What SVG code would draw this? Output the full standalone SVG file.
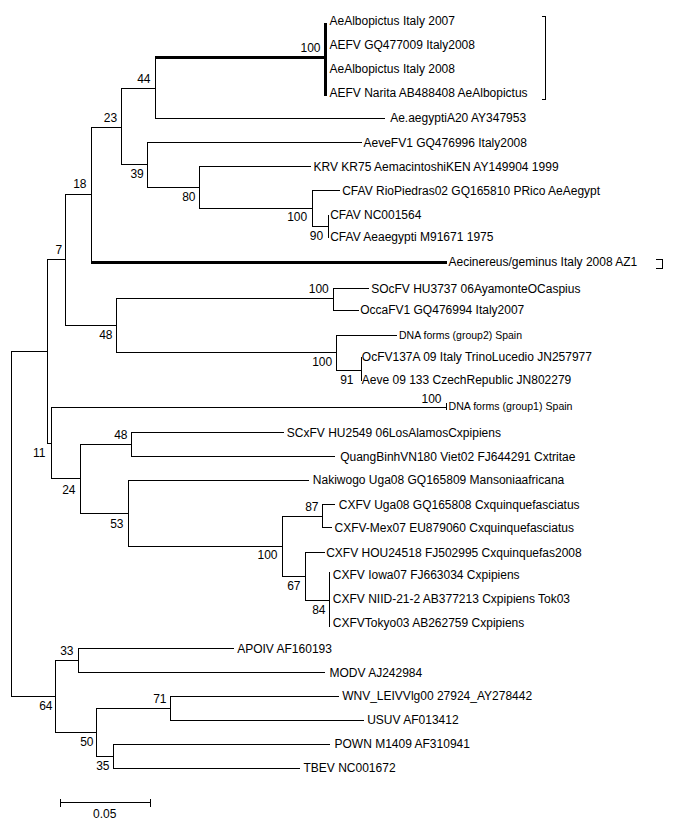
<svg xmlns="http://www.w3.org/2000/svg" width="680" height="823" viewBox="0 0 680 823">
<style>
.b{fill:none;stroke:#000;stroke-width:1;shape-rendering:crispEdges}
.t{fill:none;stroke:#000;stroke-width:3;shape-rendering:crispEdges}
text{font-family:"Liberation Sans",Arial,sans-serif;font-size:12px;fill:#000}
.s{font-size:11.5px}
.n{text-anchor:end}
</style>
<rect width="680" height="823" fill="#fff"/>
<g id="connectors">
<path class="b" d="M11.5 351.5V696.5M11 351.5H47.5M11 696.5H55.5"/>
<path class="b" d="M47.5 259.5V443.5M47 259.5H65.5M47 443.5H51.5"/>
<path class="b" d="M65.5 194.5V325.5M65 194.5H91.5M65 325.5H116.5"/>
<path class="b" d="M91.5 127.5V262.5M91 127.5H121.5"/>
<path class="t" d="M91 262.5H446.5"/>
<path class="b" d="M121.5 88.5V164.5M121 88.5H155.5M121 164.5H147.5"/>
<path class="b" d="M155.5 57.5V118.5M155 118.5H385"/>
<path class="t" d="M155 57.5H325M325.5 22.5V96"/>
<path class="b" d="M147.5 142.5V187.5M147 142.5H362M147 187.5H199.5"/>
<path class="b" d="M199.5 166.5V208.5M199 166.5H311M199 208.5H312.5"/>
<path class="b" d="M312.5 190.5V226.5M312 190.5H339.5M312 226.5H328.5"/>
<path class="b" d="M328.5 215V238"/>
<path class="b" d="M116.5 298.5V352.5M116 298.5H333.5M116 352.5H336.5"/>
<path class="b" d="M333.5 288.5V310.5M333 288.5H368.5M333 310.5H358.5"/>
<path class="b" d="M336.5 335.5V370.5M336 335.5H396.5M336 370.5H361.5"/>
<path class="b" d="M361.5 357V381"/>
<path class="b" d="M51.5 407.5V478.5M51 407.5H446M446.5 403V410M51 478.5H80.5"/>
<path class="b" d="M80.5 444.5V513.5M80 444.5H131.5M80 513.5H128.5"/>
<path class="b" d="M131.5 432.5V456.5M131 432.5H283.5M131 456.5H335"/>
<path class="b" d="M128.5 480.5V546.5M128 480.5H308.5M128 546.5H282.5"/>
<path class="b" d="M282.5 516.5V576.5M282 516.5H322.5M282 576.5H305.5"/>
<path class="b" d="M322.5 504.5V527.5M322 504.5H335M322 527.5H332"/>
<path class="b" d="M305.5 552.5V600.5M305 552.5H325M305 600.5H329.5"/>
<path class="b" d="M329.5 572V627"/>
<path class="b" d="M55.5 660.5V732.5M55 660.5H78.5M55 732.5H96.5"/>
<path class="b" d="M78.5 648.5V672.5M78 648.5H233.5M78 672.5H325"/>
<path class="b" d="M96.5 708.5V756.5M96 708.5H170.5M96 756.5H113.5"/>
<path class="b" d="M170.5 696.5V720.5M170 696.5H338.5M170 720.5H363.5"/>
<path class="b" d="M113.5 744.5V768.5M113 744.5H330M113 768.5H300"/>
<path class="b" d="M541.5 16.5H545.5V99.5H541.5"/>
<path class="b" d="M656 259.5H662.5V268.5H656"/>
</g>
<g id="scale">
<path class="b" d="M60.5 802.5H150.5M60.5 798.5V806.5M150.5 798.5V806.5"/>
<text x="104.7" y="817.6" text-anchor="middle">0.05</text>
</g>
<g id="tips">
<g id="tip-albo2007"><text x="329.5" y="25">AeAlbopictus Italy 2007</text></g>
<g id="tip-aefv-gq477009"><text x="329.5" y="48.6">AEFV GQ477009 Italy2008</text></g>
<g id="tip-albo2008"><text x="329.5" y="73.3">AeAlbopictus Italy 2008</text></g>
<g id="tip-aefv-narita"><text x="329.5" y="96.6">AEFV Narita AB488408 AeAlbopictus</text></g>
<g id="tip-aeaegypti"><text x="390.2" y="122.3">Ae.aegyptiA20 AY347953</text></g>
<g id="tip-aevefv1"><text x="363.5" y="147">AeveFV1 GQ476996 Italy2008</text></g>
<g id="tip-krv"><text x="313.5" y="171">KRV KR75 AemacintoshiKEN AY149904 1999</text></g>
<g id="tip-cfav-rio"><text x="342.2" y="195">CFAV RioPiedras02 GQ165810 PRico AeAegypt</text></g>
<g id="tip-cfav-nc"><text x="330.2" y="219.3">CFAV NC001564</text></g>
<g id="tip-cfav-m91671"><text x="330.2" y="241.3">CFAV Aeaegypti M91671 1975</text></g>
<g id="tip-aecinereus"><text x="448.5" y="266.3">Aecinereus/geminus Italy 2008 AZ1</text></g>
<g id="tip-socfv"><text x="371.2" y="292.6">SOcFV HU3737 06AyamonteOCaspius</text></g>
<g id="tip-occafv1"><text x="360.2" y="314.3">OccaFV1 GQ476994 Italy2007</text></g>
<g id="tip-dna2"><text class="s" x="399" y="339.2" textLength="123" lengthAdjust="spacingAndGlyphs">DNA forms (group2) Spain</text></g>
<g id="tip-ocfv137a"><text x="361.8" y="361">OcFV137A 09 Italy TrinoLucedio JN257977</text></g>
<g id="tip-aeve09"><text x="361.8" y="384.3">Aeve 09 133 CzechRepublic JN802279</text></g>
<g id="tip-dna1"><text class="s" x="448.5" y="409.9" textLength="124" lengthAdjust="spacingAndGlyphs">DNA forms (group1) Spain</text></g>
<g id="tip-scxfv"><text x="286.8" y="437">SCxFV HU2549 06LosAlamosCxpipiens</text></g>
<g id="tip-quangbinh"><text x="340.2" y="461">QuangBinhVN180 Viet02 FJ644291 Cxtritae</text></g>
<g id="tip-nakiwogo"><text x="312.8" y="484.3">Nakiwogo Uga08 GQ165809 Mansoniaafricana</text></g>
<g id="tip-cxfv-uga08"><text x="338.8" y="508.6">CXFV Uga08 GQ165808 Cxquinquefasciatus</text></g>
<g id="tip-cxfv-mex07"><text x="334.5" y="532">CXFV-Mex07 EU879060 Cxquinquefasciatus</text></g>
<g id="tip-cxfv-hou"><text x="326.2" y="556.6">CXFV HOU24518 FJ502995 Cxquinquefas2008</text></g>
<g id="tip-cxfv-iowa07"><text x="332.8" y="578.6">CXFV Iowa07 FJ663034 Cxpipiens</text></g>
<g id="tip-cxfv-niid"><text x="332.8" y="603.3">CXFV NIID-21-2 AB377213 Cxpipiens Tok03</text></g>
<g id="tip-cxfv-tokyo03"><text x="332.8" y="626.6">CXFVTokyo03 AB262759 Cxpipiens</text></g>
<g id="tip-apoiv"><text x="237.2" y="652.6">APOIV AF160193</text></g>
<g id="tip-modv"><text x="329.5" y="676.6">MODV AJ242984</text></g>
<g id="tip-wnv"><text x="342.2" y="700.3">WNV_LEIVVlg00 27924_AY278442</text></g>
<g id="tip-usuv"><text x="367.2" y="724.3">USUV AF013412</text></g>
<g id="tip-pown"><text x="334.5" y="748.3">POWN M1409 AF310941</text></g>
<g id="tip-tbev"><text x="303.5" y="772.3">TBEV NC001672</text></g>
</g>
<g id="bootstrap" class="n">
<g id="bs-albo"><text class="n" x="320.5" y="52.3">100</text></g>
<g id="bs-44"><text class="n" x="150.5" y="83.3">44</text></g>
<g id="bs-23"><text class="n" x="117.2" y="122.3">23</text></g>
<g id="bs-18"><text class="n" x="86.5" y="188.3">18</text></g>
<g id="bs-7"><text class="n" x="62.2" y="254.3">7</text></g>
<g id="bs-39"><text class="n" x="143.8" y="178.3">39</text></g>
<g id="bs-80"><text class="n" x="195.5" y="201.3">80</text></g>
<g id="bs-cfav"><text class="n" x="307.2" y="221.3">100</text></g>
<g id="bs-90"><text class="n" x="323.2" y="240.3">90</text></g>
<g id="bs-socfv"><text class="n" x="328.8" y="293.3">100</text></g>
<g id="bs-48a"><text class="n" x="112.5" y="339.3">48</text></g>
<g id="bs-dna2"><text class="n" x="332.2" y="366">100</text></g>
<g id="bs-91"><text class="n" x="353.5" y="384.3">91</text></g>
<g id="bs-dna1"><text class="n" x="441.5" y="402.6">100</text></g>
<g id="bs-11"><text class="n" x="45.5" y="457">11</text></g>
<g id="bs-48b"><text class="n" x="127.5" y="438.6">48</text></g>
<g id="bs-24"><text class="n" x="75.5" y="493.6">24</text></g>
<g id="bs-53"><text class="n" x="123.5" y="527.6">53</text></g>
<g id="bs-87"><text class="n" x="318.5" y="511">87</text></g>
<g id="bs-cxfv"><text class="n" x="277.5" y="559.3">100</text></g>
<g id="bs-67"><text class="n" x="300.5" y="590.3">67</text></g>
<g id="bs-84"><text class="n" x="325.5" y="613.6">84</text></g>
<g id="bs-33"><text class="n" x="73.5" y="655">33</text></g>
<g id="bs-64"><text class="n" x="52.5" y="710">64</text></g>
<g id="bs-71"><text class="n" x="166.5" y="703.3">71</text></g>
<g id="bs-50"><text class="n" x="93.5" y="746">50</text></g>
<g id="bs-35"><text class="n" x="109.5" y="770">35</text></g>
</g>
</svg>
